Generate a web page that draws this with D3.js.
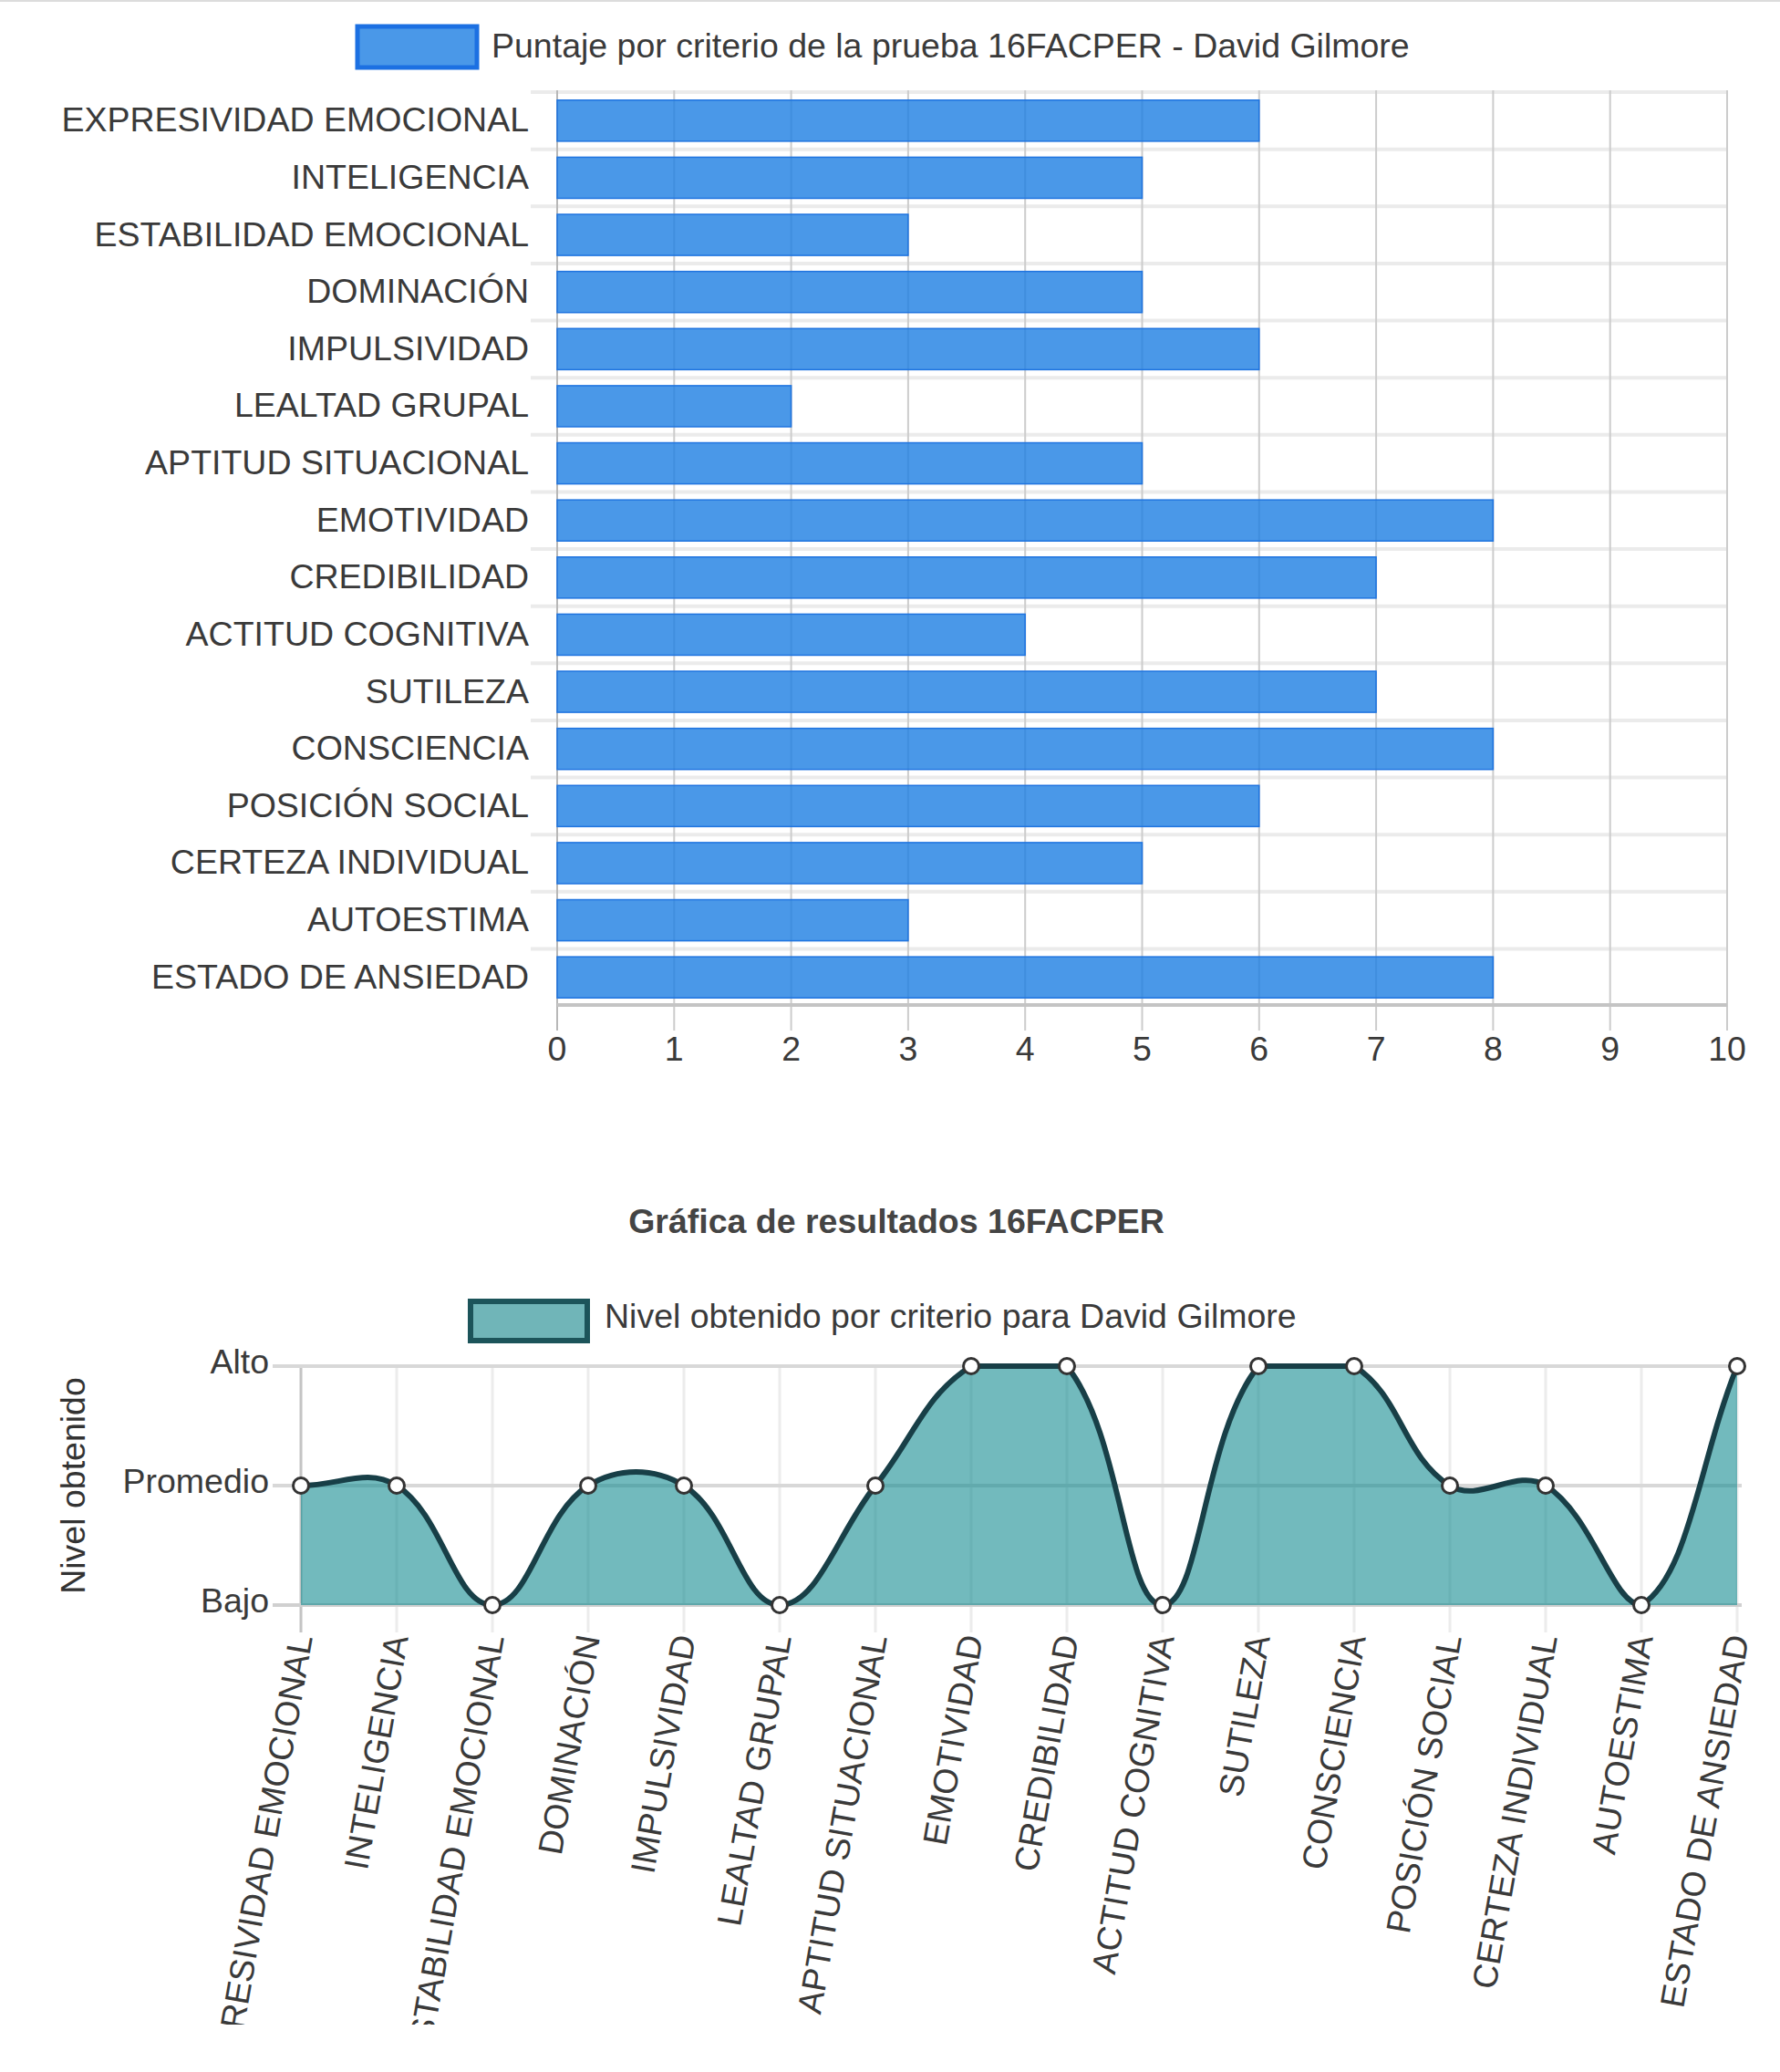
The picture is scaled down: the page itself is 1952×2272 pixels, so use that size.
<!DOCTYPE html>
<html><head><meta charset="utf-8">
<script src="https://cdn.jsdelivr.net/npm/d3@7"></script>
<style>
html,body{margin:0;padding:0;background:#fff;}
svg{display:block;}
text{font-family:"Liberation Sans",Arial,Helvetica,sans-serif;}
</style>
</head><body>
<svg id="c" width="1952" height="2272"></svg>
<script>
// ---------- DATA ----------
const categories = ["EXPRESIVIDAD EMOCIONAL","INTELIGENCIA","ESTABILIDAD EMOCIONAL","DOMINACIÓN","IMPULSIVIDAD","LEALTAD GRUPAL","APTITUD SITUACIONAL","EMOTIVIDAD","CREDIBILIDAD","ACTITUD COGNITIVA","SUTILEZA","CONSCIENCIA","POSICIÓN SOCIAL","CERTEZA INDIVIDUAL","AUTOESTIMA","ESTADO DE ANSIEDAD"];
const scores = [6,5,3,5,6,2,5,8,7,4,7,8,6,5,3,8];
const scoreTicks = [0,1,2,3,4,5,6,7,8,9,10];
const levels = ["Bajo","Promedio","Alto"];
const levelResults = ["Promedio","Promedio","Bajo","Promedio","Promedio","Bajo","Promedio","Alto","Alto","Bajo","Alto","Alto","Promedio","Promedio","Bajo","Alto"];
const barLegend = "Puntaje por criterio de la prueba 16FACPER - David Gilmore";
const lineTitle = "Gráfica de resultados 16FACPER";
const lineLegend = "Nivel obtenido por criterio para David Gilmore";
const yTitle = "Nivel obtenido";

const svg = d3.select("#c");
const FS = 37.5;
const TXT = "#3a3a3a";

svg.append("rect").attr("x",0).attr("y",0).attr("width",1952).attr("height",2).attr("fill","#dcdcdc");

// ---------- BAR CHART ----------
const bx = d3.scaleLinear().domain([0,10]).range([611,1894]);
const byBand = d3.scaleBand().domain(categories).range([101,1103]).paddingInner(0.28).paddingOuter(0.14);
const byRow = d3.scaleBand().domain(categories).range([101,1103]);

const g1 = svg.append("g");
// legend
g1.append("rect").attr("x",392).attr("y",29).attr("width",131).attr("height",45)
  .attr("fill","#4a98e8").attr("stroke","#1c70e2").attr("stroke-width",5);
g1.append("text").attr("x",539).attr("y",63).attr("font-size",FS).attr("fill",TXT).text(barLegend);

// horizontal gridlines (between categories)
const rowEdges = categories.map(c=>byRow(c));
g1.selectAll("line.hg").data(rowEdges).join("line")
  .attr("x1",582).attr("x2",1894).attr("y1",d=>d).attr("y2",d=>d)
  .attr("stroke","#ebebeb").attr("stroke-width",4);
// vertical gridlines
g1.selectAll("line.vg").data(scoreTicks).join("line")
  .attr("x1",d=>bx(d)).attr("x2",d=>bx(d)).attr("y1",99).attr("y2",1130)
  .attr("stroke",d=>d===0?"#b8b8b8":"#cccccc").attr("stroke-width",2);
// bars (semi-transparent so grid shows through)
g1.selectAll("rect.bar").data(categories).join("rect")
  .attr("x",bx(0)).attr("y",c=>byBand(c))
  .attr("width",(c,i)=>bx(scores[i])-bx(0)).attr("height",byBand.bandwidth())
  .attr("fill","rgb(29,126,226)").attr("fill-opacity",0.8)
  .attr("stroke","#1f74e0").attr("stroke-width",1.5);
// bottom axis line
g1.append("line").attr("x1",bx(0)).attr("x2",1894).attr("y1",1102).attr("y2",1102)
  .attr("stroke","#c4c4c4").attr("stroke-width",4);
// tick labels
g1.selectAll("text.xt").data(scoreTicks).join("text")
  .attr("x",d=>bx(d)).attr("y",1163).attr("text-anchor","middle")
  .attr("font-size",FS).attr("fill",TXT).text(d=>d);
// category labels
g1.selectAll("text.cat").data(categories).join("text")
  .attr("x",580).attr("y",c=>byRow(c)+byRow.bandwidth()/2+12).attr("text-anchor","end")
  .attr("font-size",FS).attr("fill",TXT).text(c=>c);

// ---------- LINE CHART ----------
const lx = d3.scalePoint().domain(categories).range([330,1905]);
const ly = d3.scalePoint().domain(levels).range([1760,1498]);
const area = {left:330,right:1905,top:1498,bottom:1760};

const g2 = svg.append("g");
g2.append("text").attr("x",983).attr("y",1352).attr("text-anchor","middle")
  .attr("font-size",FS).attr("font-weight","bold").attr("fill","#444").text(lineTitle);
g2.append("rect").attr("x",516).attr("y",1427).attr("width",128).attr("height",43)
  .attr("fill","#70b5b8").attr("stroke","#1c545a").attr("stroke-width",6);
g2.append("text").attr("x",663).attr("y",1456).attr("font-size",FS).attr("fill",TXT).text(lineLegend);

// vertical gridlines
g2.selectAll("line.vg").data(categories).join("line")
  .attr("x1",c=>lx(c)).attr("x2",c=>lx(c)).attr("y1",area.top).attr("y2",1790)
  .attr("stroke",(c,i)=>i===0?"#c4c4c4":"#ececec").attr("stroke-width",3);
// horizontal gridlines
g2.selectAll("line.hg").data(levels).join("line")
  .attr("x1",299).attr("x2",1910).attr("y1",d=>ly(d)).attr("y2",d=>ly(d))
  .attr("stroke",d=>d==="Bajo"?"#d0d0d0":"#d8d8d8").attr("stroke-width",4);
// y labels
g2.selectAll("text.yl").data(levels).join("text")
  .attr("x",295).attr("y",d=>ly(d)+8).attr("text-anchor","end")
  .attr("font-size",FS).attr("fill",TXT).text(d=>d);
// y title
g2.append("text").attr("transform","translate(93,1629) rotate(-90)")
  .attr("text-anchor","middle").attr("font-size",FS).attr("fill","#333").text(yTitle);

// Chart.js style spline (tension 0.4, control points capped to chart area)
const pts = categories.map((c,i)=>({x:lx(c), y:ly(levelResults[i])}));
const tension = 0.4;
const cap = (p)=>({x:Math.max(area.left,Math.min(area.right,p.x)), y:Math.max(area.top,Math.min(area.bottom,p.y))});
const ctrl = pts.map((cur,i)=>{
  const prev = pts[i-1]||cur, next = pts[i+1]||cur;
  const d01 = Math.hypot(cur.x-prev.x,cur.y-prev.y), d12 = Math.hypot(next.x-cur.x,next.y-cur.y);
  let s01 = d01/(d01+d12), s12 = d12/(d01+d12);
  if(isNaN(s01)) s01=0; if(isNaN(s12)) s12=0;
  const fa = tension*s01, fb = tension*s12;
  return {
    p: cap({x:cur.x-fa*(next.x-prev.x), y:cur.y-fa*(next.y-prev.y)}),
    n: cap({x:cur.x+fb*(next.x-prev.x), y:cur.y+fb*(next.y-prev.y)})
  };
});
function curvePath(close){
  const p = d3.path();
  p.moveTo(pts[0].x,pts[0].y);
  for(let i=1;i<pts.length;i++){
    p.bezierCurveTo(ctrl[i-1].n.x,ctrl[i-1].n.y,ctrl[i].p.x,ctrl[i].p.y,pts[i].x,pts[i].y);
  }
  if(close){
    p.lineTo(pts[pts.length-1].x, ly("Bajo"));
    p.lineTo(pts[0].x, ly("Bajo"));
    p.closePath();
  }
  return p.toString();
}
g2.append("path").attr("d",curvePath(true)).attr("fill","rgb(20,140,145)").attr("fill-opacity",0.6);
g2.append("path").attr("d",curvePath(false)).attr("fill","none").attr("stroke","#183f47").attr("stroke-width",6).attr("stroke-linejoin","round");
g2.selectAll("circle.pt").data(pts).join("circle")
  .attr("cx",d=>d.x).attr("cy",d=>d.y).attr("r",8.5)
  .attr("fill","#fff").attr("stroke","#333").attr("stroke-width",3);

// rotated x labels (clipped at canvas bottom, as in the reference)
svg.append("clipPath").attr("id","clipb").append("rect").attr("x",0).attr("y",1770).attr("width",1952).attr("height",450);
const g3 = svg.append("g").attr("clip-path","url(#clipb)");
g3.selectAll("text.xl").data(categories).join("text")
  .attr("transform",c=>`translate(${lx(c)},1793) rotate(-80)`)
  .attr("text-anchor","end").attr("dy","0.35em")
  .attr("font-size",FS).attr("fill",TXT).text(c=>c);
</script>
</body></html>
